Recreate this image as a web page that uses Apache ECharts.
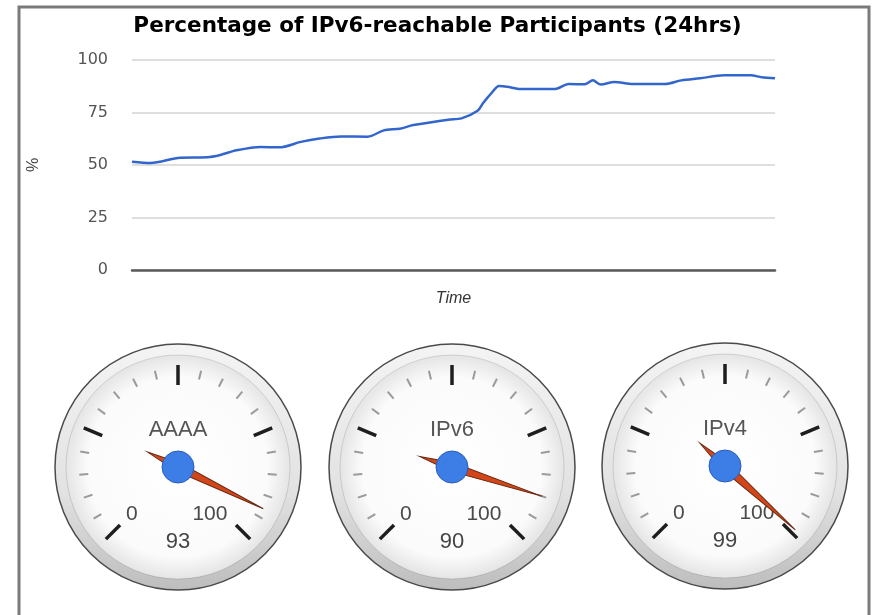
<!DOCTYPE html>
<html>
<head>
<meta charset="utf-8">
<script src="https://cdn.jsdelivr.net/npm/echarts@6/dist/echarts.min.js"></script>
<style>
html,body{margin:0;padding:0;background:#fff;}
#c{width:875px;height:615px;}
</style>
</head>
<body>
<div id="c"></div>
<script>
// ---- data ----
const chartTitle = 'Percentage of IPv6-reachable Participants (24hrs)';
const hours = [0, 0.7, 1.8, 2.8, 3.3, 3.9, 4.8, 5.5, 6.3, 7.0, 7.8, 8.8, 9.4, 10.0, 10.5, 11.8, 12.3, 12.9, 13.1, 13.4, 13.7, 14.0, 14.5, 15.8, 16.3, 16.9, 17.2, 17.5, 18.0, 18.7, 19.9, 20.5, 21.2, 22.1, 23.1, 23.5, 24];
const percent = [51.6, 51.0, 53.5, 53.7, 54.8, 57.0, 58.6, 58.4, 61.0, 62.6, 63.6, 63.5, 66.5, 67.3, 69.0, 71.6, 72.2, 75.8, 79.4, 84.0, 87.6, 87.3, 86.2, 86.2, 88.6, 88.4, 90.3, 88.3, 89.5, 88.6, 88.6, 90.3, 91.3, 92.7, 92.7, 91.8, 91.3];
const yTicks = [0, 25, 50, 75, 100];
const gaugeNames = ['AAAA', 'IPv6', 'IPv4'];
const gaugeValues = [93, 90, 99];

// ---- layout ----
const FONT = 'Liberation Sans, Arial, sans-serif';
const WIDE = 'DejaVu Sans, Liberation Sans, sans-serif';
const gaugeCenters = [[178, 467], [452, 467], [725, 466]];
const tickR = 102;

const chart = echarts.init(document.getElementById('c'), null, {renderer: 'canvas'});

const graphics = [];
gaugeCenters.forEach(c => {
  graphics.push({
    type: 'circle', z: -10,
    shape: {cx: c[0], cy: c[1], r: 123},
    style: {
      fill: new echarts.graphic.LinearGradient(0, 0, 0, 1, [
        {offset: 0, color: '#f4f4f4'}, {offset: 0.6, color: '#e2e2e2'}, {offset: 1, color: '#bdbdbd'}
      ]),
      stroke: '#4a4a4a', lineWidth: 1.5
    }
  });
  graphics.push({
    type: 'circle', z: -9,
    shape: {cx: c[0], cy: c[1], r: 112},
    style: {
      fill: new echarts.graphic.RadialGradient(0.5, 0.5, 0.5, [
        {offset: 0, color: '#ffffff'}, {offset: 0.8, color: '#fbfbfb'}, {offset: 1, color: '#e4e4e4'}
      ]),
      stroke: 'rgba(0,0,0,0.12)', lineWidth: 1
    }
  });
});
graphics.push({
  type: 'rect', z: 100,
  shape: {x: 19, y: 7, width: 850, height: 640},
  style: {fill: 'none', stroke: '#7a7a7a', lineWidth: 3}
});

const series = [{
  type: 'line',
  data: hours.map((h, i) => [h, percent[i]]),
  showSymbol: false,
  smooth: 0.3,
  lineStyle: {color: '#3366cc', width: 2.5},
  itemStyle: {color: '#3366cc'}
}];

const hidden = {
  axisLine: {show: false, lineStyle: {width: 0}},
  splitLine: {show: false}, axisTick: {show: false}, axisLabel: {show: false},
  title: {show: false}, detail: {show: false}, anchor: {show: false}
};

gaugeNames.forEach((name, i) => {
  const c = gaugeCenters[i];
  // minor ticks (drawn under the major ones)
  series.push(Object.assign({}, hidden, {
    type: 'gauge', center: c, radius: tickR,
    startAngle: 225, endAngle: -45, min: 0, max: 100, splitNumber: 4,
    axisTick: {show: true, splitNumber: 5, distance: 3, length: 9, lineStyle: {color: '#9a9a9a', width: 2}},
    pointer: {show: false},
    data: [{value: gaugeValues[i]}]
  }));
  // tail of the needle (pointer of a mirrored gauge)
  series.push(Object.assign({}, hidden, {
    type: 'gauge', center: c, radius: tickR,
    startAngle: 45, endAngle: -225, min: 0, max: 100,
    pointer: {
      icon: 'path://M5,0 L10,100 L0,100 Z',
      length: 34, width: 9,
      itemStyle: {color: '#cf4a1f', borderColor: '#6b2a12', borderWidth: 1}
    },
    data: [{value: gaugeValues[i]}]
  }));
  series.push({
    type: 'gauge',
    center: c, radius: tickR,
    startAngle: 225, endAngle: -45,
    min: 0, max: 100, splitNumber: 4,
    axisLine: {show: false, lineStyle: {width: 0}},
    splitLine: {show: true, distance: 0, length: 20, lineStyle: {color: '#1e1e1e', width: 3.5}},
    axisTick: {show: false},
    axisLabel: {
      show: true, distance: 8.5,
      fontFamily: FONT, fontSize: 21, color: '#4a4a4a',
      formatter: v => v === 0 ? '{l|0}' : (v === 100 ? '{r|100}' : ''),
      rich: {
        l: {fontFamily: FONT, fontSize: 21, color: '#4a4a4a', padding: [0, 0, 10, 0]},
        r: {fontFamily: FONT, fontSize: 21, color: '#4a4a4a', padding: [0, 2.5, 10, 0]}
      }
    },
    pointer: {
      icon: 'path://M5,0 L10,100 L0,100 Z',
      length: 95, width: 9,
      itemStyle: {color: '#d2461a', borderColor: '#6b2a12', borderWidth: 1}
    },
    anchor: {
      show: true, showAbove: true, size: 32, icon: 'circle',
      itemStyle: {color: '#3d7de6', borderColor: '#2a5cbc', borderWidth: 1}
    },
    title: {show: true, offsetCenter: [0, -37], fontFamily: FONT, fontSize: 22, color: '#555'},
    detail: {show: true, offsetCenter: [0, 75], fontFamily: FONT, fontSize: 22, fontWeight: 'normal', color: '#444', formatter: '{value}'},
    data: [{value: gaugeValues[i], name: name}]
  });
});

chart.setOption({
  animation: false,
  backgroundColor: '#fff',
  title: {
    text: chartTitle, left: 'center', top: 10,
    textStyle: {fontFamily: WIDE, fontSize: 21.5, fontWeight: 'bold', color: '#000'}
  },
  grid: {left: 132, right: 100, top: 60, bottom: 345},
  xAxis: {
    type: 'value', min: 0, max: 24,
    name: 'Time', nameLocation: 'middle', nameGap: 21,
    nameTextStyle: {fontFamily: FONT, fontSize: 16, fontStyle: 'italic', color: '#333'},
    axisLine: {show: true, lineStyle: {color: '#5a5a5a', width: 2.5}},
    axisTick: {show: false}, axisLabel: {show: false}, splitLine: {show: false}
  },
  yAxis: {
    type: 'value', min: yTicks[0], max: yTicks[yTicks.length - 1], interval: yTicks[1] - yTicks[0],
    name: '%', nameLocation: 'middle', nameGap: 90, nameRotate: 90,
    nameTextStyle: {fontFamily: FONT, fontSize: 16, color: '#444'},
    axisLine: {show: false}, axisTick: {show: false},
    axisLabel: {margin: 24, fontFamily: WIDE, fontSize: 16, color: '#555'},
    splitLine: {lineStyle: {color: '#dedede', width: 2}}
  },
  graphic: graphics,
  series: series
});
</script>
</body>
</html>
